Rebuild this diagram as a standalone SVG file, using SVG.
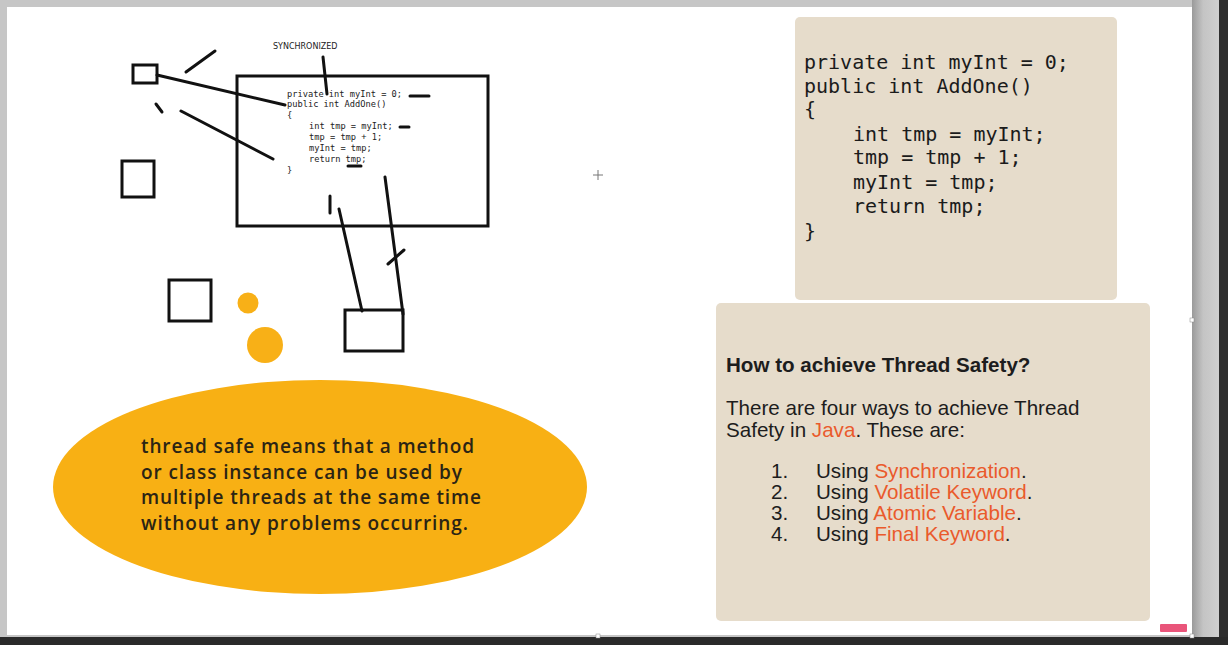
<svg xmlns="http://www.w3.org/2000/svg" width="1228" height="645" viewBox="0 0 1228 645">
  <defs>
    <linearGradient id="shadowR" x1="0" y1="0" x2="1" y2="0">
      <stop offset="0" stop-color="#9a9a9a"/>
      <stop offset="0.4" stop-color="#c4c4c4"/>
      <stop offset="1" stop-color="#d0d0d0"/>
    </linearGradient>
    <style>
      .ink { fill: none; stroke: #111; stroke-width: 3; stroke-linecap: round; }
      .box { fill: #fff; stroke: #111; stroke-width: 3; }
      .tiny { font-family: "DejaVu Sans Mono", monospace; font-size: 8.7px; fill: #222; }
      .code { font-family: "DejaVu Sans Mono", monospace; font-size: 20px; fill: #1b1b1b; }
      .panel { fill: #e6dccb; }
      .body { font-family: "Liberation Sans", Arial, sans-serif; font-size: 20.6px; fill: #1d1d1d; }
      .hl { fill: #ea5a2c; }
      .blurb { font-family: "Open Sans", "Noto Sans", sans-serif; font-size: 19px; font-weight: 600; fill: #2b2414; }
    </style>
  </defs>

  <!-- window frame -->
  <rect x="0" y="0" width="1228" height="645" fill="#c6c6c6"/>
  <rect x="1192" y="0" width="28" height="645" fill="url(#shadowR)"/>
  <rect x="1219" y="0" width="9" height="645" fill="#2e2e2e"/>
  <rect x="0" y="637" width="1228" height="8" fill="#2a2a2a"/>
  <rect x="7" y="7" width="1185" height="628" fill="#ffffff"/>

  <!-- sketch on the left -->
  <g id="small-rect">
    <rect class="box" x="133" y="65" width="24" height="18"/>
  </g>
  <g id="square-a">
    <rect class="box" x="122" y="161" width="32" height="36"/>
  </g>
  <g id="code-frame">
    <rect class="box" x="237" y="76" width="251" height="150"/>
    <text class="tiny" x="287" y="97">private int myInt = 0;</text>
    <text class="tiny" x="287" y="107">public int AddOne()</text>
    <text class="tiny" x="287" y="118">{</text>
    <text class="tiny" x="309" y="129">int tmp = myInt;</text>
    <text class="tiny" x="309" y="140">tmp = tmp + 1;</text>
    <text class="tiny" x="309" y="151">myInt = tmp;</text>
    <text class="tiny" x="309" y="162">return tmp;</text>
    <text class="tiny" x="287" y="173">}</text>
  </g>
  <g id="sync-label">
    <text x="273" y="49" font-family="DejaVu Sans, sans-serif" font-size="8px" fill="#222">SYNCHRONIZED</text>
  </g>
  <g id="square-b">
    <rect class="box" x="169" y="280" width="42" height="41"/>
  </g>
  <g id="target-rect">
    <rect class="box" x="345" y="310" width="58" height="41"/>
  </g>
  <g id="dots">
    <circle cx="248" cy="303" r="10.5" fill="#f8b017"/>
    <circle cx="265" cy="345" r="18" fill="#f8b017"/>
  </g>

  <g id="connectors">
    <line class="ink" x1="186" y1="72" x2="215" y2="51"/>
    <line class="ink" x1="157" y1="75" x2="285" y2="105"/>
    <line class="ink" x1="156" y1="104" x2="162" y2="112"/>
    <line class="ink" x1="181" y1="111" x2="273" y2="159"/>
    <line class="ink" x1="323" y1="57" x2="327" y2="94"/>
    <line class="ink" x1="410" y1="96" x2="429" y2="96"/>
    <line class="ink" x1="400" y1="127" x2="409" y2="127"/>
    <line class="ink" x1="348" y1="166" x2="361" y2="166"/>
    <line class="ink" x1="330" y1="196" x2="330" y2="213"/>
    <line class="ink" x1="339" y1="209" x2="362" y2="311"/>
    <line class="ink" x1="385" y1="177" x2="403" y2="314"/>
    <line class="ink" x1="388" y1="264" x2="404" y2="250"/>
  </g>

  <!-- definition bubble -->
  <g id="bubble">
    <ellipse cx="320" cy="487" rx="267" ry="107" fill="#f8b014"/>
    <text class="blurb" x="141" y="453" textLength="333" lengthAdjust="spacing">thread safe means that a method</text>
    <text class="blurb" x="141" y="479" textLength="321" lengthAdjust="spacing">or class instance can be used by</text>
    <text class="blurb" x="141" y="504" textLength="340" lengthAdjust="spacing">multiple threads at the same time</text>
    <text class="blurb" x="141" y="530" textLength="327" lengthAdjust="spacing">without any problems occurring.</text>
  </g>

  <!-- code listing panel -->
  <g id="code-panel">
    <rect class="panel" x="795" y="17" width="322" height="283" rx="5"/>
    <text class="code" x="804" y="69">private int myInt = 0;</text>
    <text class="code" x="804" y="93">public int AddOne()</text>
    <text class="code" x="804" y="116">{</text>
    <text class="code" x="853" y="141">int tmp = myInt;</text>
    <text class="code" x="853" y="164">tmp = tmp + 1;</text>
    <text class="code" x="853" y="189">myInt = tmp;</text>
    <text class="code" x="853" y="213">return tmp;</text>
    <text class="code" x="804" y="238">}</text>
  </g>

  <!-- thread safety notes panel -->
  <g id="notes-panel">
    <rect class="panel" x="716" y="303" width="434" height="318" rx="5"/>
    <text class="body" x="726" y="372" font-weight="bold" font-size="19px">How to achieve Thread Safety?</text>
    <text class="body" x="726" y="415">There are four ways to achieve Thread</text>
    <text class="body" x="726" y="437">Safety in <tspan class="hl">Java</tspan>. These are:</text>
    <text class="body" x="771" y="478">1.</text>
    <text class="body" x="816" y="478">Using <tspan class="hl">Synchronization</tspan>.</text>
    <text class="body" x="771" y="499">2.</text>
    <text class="body" x="816" y="499">Using <tspan class="hl">Volatile Keyword</tspan>.</text>
    <text class="body" x="771" y="520">3.</text>
    <text class="body" x="816" y="520">Using <tspan class="hl">Atomic Variable</tspan>.</text>
    <text class="body" x="771" y="541">4.</text>
    <text class="body" x="816" y="541">Using <tspan class="hl">Final Keyword</tspan>.</text>
  </g>

  <!-- cursor cross and canvas handles -->
  <g id="cursor" stroke="#777" stroke-width="1">
    <line x1="593" y1="175" x2="603" y2="175"/>
    <line x1="598" y1="170" x2="598" y2="180"/>
  </g>
  <rect x="1160" y="624" width="27" height="8" fill="#e9557a" rx="1"/>
  <rect x="596" y="634" width="4" height="4" fill="#fff" stroke="#888" stroke-width="0.5"/>
  <rect x="1190" y="634" width="4" height="4" fill="#fff" stroke="#888" stroke-width="0.5"/>
  <rect x="1190" y="318" width="4" height="4" fill="#fff" stroke="#888" stroke-width="0.5"/>
</svg>
